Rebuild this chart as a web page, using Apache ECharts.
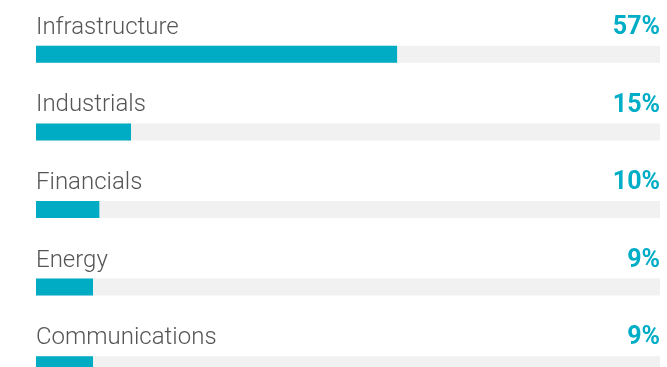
<!DOCTYPE html>
<html>
<head>
<meta charset="utf-8">
<script src="https://cdn.jsdelivr.net/npm/echarts@6/dist/echarts.min.js"></script>
<style>html,body{margin:0;padding:0;background:#fff;}#c{width:667px;height:367px;}</style>
</head>
<body>
<div id="c"></div>
<script>
const categories = ['Infrastructure', 'Industrials', 'Financials', 'Energy', 'Communications'];
const values = [57, 15, 10, 9, 9];
const valueLabels = ['57%', '15%', '10%', '9%', '9%'];
const axisMax = 98.5;

const chart = echarts.init(document.getElementById('c'), null, {renderer: 'canvas'});
chart.setOption({
  animation: false,
  grid: {left: 36, width: 624, top: 15.5, height: 388, outerBoundsMode: 'none', containLabel: false},
  xAxis: {type: 'value', min: 0, max: axisMax, show: false},
  yAxis: {type: 'category', data: categories, inverse: true, show: false},
  series: [
    {
      type: 'bar',
      data: categories.map(() => axisMax),
      barWidth: 17,
      itemStyle: {color: '#f1f1f1'},
      silent: true,
      label: {
        show: true,
        position: ['100%', -18],
        align: 'right',
        verticalAlign: 'middle',
        formatter: p => valueLabels[p.dataIndex],
        fontFamily: 'Roboto',
        fontWeight: 'bold',
        fontSize: 25,
        color: '#00adc6'
      }
    },
    {
      type: 'bar',
      data: values,
      barWidth: 17,
      barGap: '-100%',
      itemStyle: {color: '#00acc4'},
      label: {
        show: true,
        position: [0, -18],
        align: 'left',
        verticalAlign: 'middle',
        formatter: p => categories[p.dataIndex],
        fontFamily: 'Roboto',
        fontWeight: 300,
        fontSize: 24,
        color: '#555555'
      }
    }
  ]
});
</script>
</body>
</html>
